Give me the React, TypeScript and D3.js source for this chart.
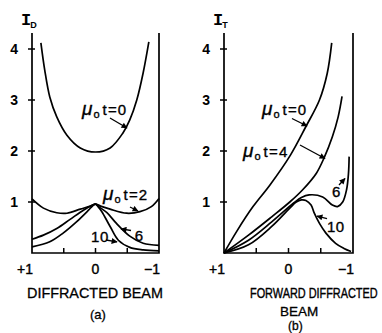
import { useEffect, useRef } from "react"
import * as d3 from "d3"

type Pt = [number, number]

// axes: intensity ticks and direction-cosine ticks (+1 on the left, -1 on the right)
const yTicks = [1, 2, 3, 4]
const xMinorTicks = [0.5, 0, -0.5]
const xLabelValues = [1, 0, -1]
const xLabelText = ["+1", "0", "−1"]

// (a) diffracted beam, I_D vs direction, one curve per mu0*t
const diffracted0: Pt[] = [[0.86, 4.12], [0.8, 3.59], [0.72, 3.06], [0.61, 2.67], [0.45, 2.31], [0.24, 2.06], [0, 1.98], [-0.23, 2.06], [-0.43, 2.35], [-0.54, 2.61], [-0.65, 3.0], [-0.75, 3.53], [-0.84, 4.14]]
const diffracted2: Pt[] = [[1, 1.06], [0.82, 0.88], [0.61, 0.79], [0.45, 0.78], [0.24, 0.86], [0.08, 0.92], [0, 0.96], [-0.08, 0.92], [-0.23, 0.86], [-0.49, 0.78], [-0.7, 0.81], [-0.88, 0.91], [-1, 1.07]]
const diffracted6: Pt[] = [[1, 0.27], [0.82, 0.35], [0.61, 0.48], [0.4, 0.66], [0.19, 0.84], [0.06, 0.93], [0, 0.96], [-0.06, 0.9], [-0.18, 0.79], [-0.33, 0.58], [-0.54, 0.33], [-0.75, 0.19], [-1, 0.15]]
const diffracted10: Pt[] = [[1, 0.12], [0.72, 0.22], [0.51, 0.39], [0.3, 0.61], [0.11, 0.84], [0.04, 0.93], [0, 0.96], [-0.04, 0.91], [-0.1, 0.81], [-0.23, 0.52], [-0.36, 0.25], [-0.54, 0.11], [-0.75, 0.06], [-1, 0.04]]

// (b) forward diffracted beam, I_T
const forward0: Pt[] = [[1, 0], [0.805, 0.42], [0.55, 0.91], [0.29, 1.33], [-0.03, 1.92], [-0.27, 2.48], [-0.48, 3.0], [-0.6, 3.52], [-0.67, 4.12]]
const forward4: Pt[] = [[1, 0], [0.62, 0.35], [0.26, 0.71], [-0.02, 1.0], [-0.22, 1.24], [-0.43, 1.56], [-0.55, 1.86], [-0.68, 2.28], [-0.77, 2.67], [-0.83, 3.07]]
const forward6: Pt[] = [[1, 0], [0.62, 0.25], [0.26, 0.61], [-0.08, 0.98], [-0.2, 1.09], [-0.32, 1.14], [-0.53, 1.1], [-0.68, 0.94], [-0.76, 0.91], [-0.84, 1.0], [-0.9, 1.24], [-0.93, 1.56], [-0.94, 1.89]]
const forward10: Pt[] = [[1, 0], [0.62, 0.16], [0.26, 0.52], [-0.02, 0.88], [-0.12, 1.0], [-0.2, 1.04], [-0.27, 1.03], [-0.35, 0.94], [-0.4, 0.78], [-0.48, 0.58], [-0.58, 0.39], [-0.73, 0.19], [-0.86, 0.09], [-0.97, 0.03]]

const FONT = "'Liberation Sans', Arial, sans-serif"

interface Note {
  text: string
  mu: boolean
  at: Pt
  from: Pt
  to: Pt
}

const panels = [
  {
    left: 32,
    right: 159,
    sub: "D",
    curves: [diffracted0, diffracted2, diffracted6, diffracted10],
    notes: [
      { text: "0", mu: true, at: [0.213, 2.706], from: [-0.228, 2.647], to: [-0.496, 2.451] },
      { text: "2", mu: true, at: [-0.118, 1.039], from: [-0.543, 0.902], to: [-0.669, 0.824] },
      { text: "6", mu: false, at: [-0.62, 0.235], from: [-0.559, 0.441], to: [-0.402, 0.471] },
      { text: "10", mu: false, at: [0.07, 0.216], from: [-0.165, 0.255], to: [-0.339, 0.216] },
    ] as Note[],
    title: [
      { text: "DIFFRACTED BEAM", x: 27, y: 298, size: 14.4, sy: 1 },
      { text: "(a)", x: 90, y: 319, size: 13, sy: 1 },
    ],
  },
  {
    left: 224,
    right: 353,
    sub: "T",
    curves: [forward0, forward4, forward6, forward10],
    notes: [
      { text: "0", mu: true, at: [0.411, 2.706], from: [-0.054, 2.637], to: [-0.287, 2.49] },
      { text: "4", mu: true, at: [0.705, 1.882], from: [-0.178, 2.118], to: [-0.566, 1.853] },
      { text: "6", mu: false, at: [-0.674, 1.098], from: [-0.783, 1.333], to: [-0.876, 1.461] },
      { text: "10", mu: false, at: [-0.597, 0.412], from: [-0.597, 0.676], to: [-0.442, 0.725] },
    ] as Note[],
    title: [
      { text: "FORWARD DIFFRACTED", x: 250, y: 298, size: 10.9, sy: 1.28 },
      { text: "BEAM", x: 280, y: 316, size: 13.5, sy: 1 },
      { text: "(b)", x: 288, y: 330, size: 12, sy: 1 },
    ],
  },
]

export default function App() {
  const svgRef = useRef<SVGSVGElement | null>(null)

  useEffect(() => {
    if (!svgRef.current) return
    const svg = d3.select(svgRef.current)
    svg.selectAll("*").remove()

    svg.append("rect").attr("width", 382).attr("height", 333).attr("fill", "#fff")

    // arrow head for the curve labels
    svg
      .append("defs")
      .append("marker")
      .attr("id", "arrowHead")
      .attr("viewBox", "0 0 10 10")
      .attr("refX", 9)
      .attr("refY", 5)
      .attr("markerWidth", 7)
      .attr("markerHeight", 6)
      .attr("markerUnits", "userSpaceOnUse")
      .attr("orient", "auto")
      .append("path")
      .attr("d", "M0,0L10,5L0,10z")
      .attr("fill", "#000")

    const y = d3.scaleLinear().domain([0, 4]).range([253, 49])
    const axisTop = 33

    panels.forEach((p) => {
      const x = d3.scaleLinear().domain([1, -1]).range([p.left, p.right])
      const g = svg.append("g")

      // frame: left axis, bottom axis, right edge
      g.append("path")
        .attr("d", `M${p.left},${axisTop}V${y(0)}H${p.right}V${axisTop}`)
        .attr("fill", "none")
        .attr("stroke", "#000")
        .attr("stroke-width", 1.7)

      // y ticks cross the axis
      g.selectAll(".ytick")
        .data(yTicks)
        .enter()
        .append("line")
        .attr("x1", p.left - 4)
        .attr("x2", p.left + 3)
        .attr("y1", (d) => y(d))
        .attr("y2", (d) => y(d))
        .attr("stroke", "#000")
        .attr("stroke-width", 1.5)

      g.selectAll(".ylab")
        .data(yTicks)
        .enter()
        .append("text")
        .attr("x", p.left - 14)
        .attr("y", (d) => y(d) + 5)
        .attr("text-anchor", "end")
        .attr("font-family", FONT)
        .attr("font-weight", "bold")
        .attr("font-size", 14)
        .text((d) => d)

      // x ticks point up from the bottom axis
      g.selectAll(".xtick")
        .data(xMinorTicks)
        .enter()
        .append("line")
        .attr("x1", (d) => x(d))
        .attr("x2", (d) => x(d))
        .attr("y1", y(0))
        .attr("y2", y(0) - 5)
        .attr("stroke", "#000")
        .attr("stroke-width", 1.5)

      g.selectAll(".xlab")
        .data(xLabelValues)
        .enter()
        .append("text")
        .attr("x", (d) => x(d) + (d === 0 ? 0 : 1))
        .attr("y", 274)
        .attr("text-anchor", (d) => (d === 0 ? "middle" : "end"))
        .attr("font-family", FONT)
        .attr("font-size", 14)
        .attr("stroke", "#000")
        .attr("stroke-width", 0.4)
        .text((d, i) => xLabelText[i])

      // axis name I_D / I_T
      const name = g.append("text").attr("x", p.left - 11).attr("y", 25).attr("font-weight", "bold")
      name.append("tspan").attr("font-family", "'Liberation Mono', monospace").attr("font-size", 17).text("I")
      name.append("tspan").attr("font-family", FONT).attr("font-size", 9).attr("dx", -1).attr("dy", 3).text(p.sub)

      // curves
      const line = d3
        .line<Pt>()
        .x((d) => x(d[0]))
        .y((d) => y(d[1]))
        .curve(d3.curveCatmullRom.alpha(0.5))

      g.selectAll(".curve")
        .data(p.curves)
        .enter()
        .append("path")
        .attr("d", (d) => line(d))
        .attr("fill", "none")
        .attr("stroke", "#000")
        .attr("stroke-width", 1.7)

      // curve labels with arrows
      p.notes.forEach((n) => {
        g.append("line")
          .attr("x1", x(n.from[0]))
          .attr("y1", y(n.from[1]))
          .attr("x2", x(n.to[0]))
          .attr("y2", y(n.to[1]))
          .attr("stroke", "#000")
          .attr("stroke-width", 1.3)
          .attr("marker-end", "url(#arrowHead)")

        const t = g
          .append("text")
          .attr("x", x(n.at[0]))
          .attr("y", y(n.at[1]))
          .attr("font-family", FONT)
          .attr("stroke", "#000")
          .attr("stroke-width", 0.35)
        if (n.mu) {
          t.append("tspan").attr("font-size", 19).attr("font-style", "italic").text("μ")
          t.append("tspan").attr("font-size", 11).attr("dx", 1).attr("dy", 3).text("o")
          t.append("tspan").attr("font-size", 15).attr("dx", 3).attr("dy", -3).attr("letter-spacing", 1.2).text(`t=${n.text}`)
        } else {
          t.attr("font-size", 15).attr("letter-spacing", 0.5).text(n.text)
        }
      })

      // captions under the panel (stretched vertically to match the lettering)
      g.selectAll(".title")
        .data(p.title)
        .enter()
        .append("text")
        .attr("transform", (d) => `translate(${d.x},${d.y}) scale(1,${d.sy})`)
        .attr("font-family", FONT)
        .attr("font-size", (d) => d.size)
        .attr("stroke", "#000")
        .attr("stroke-width", 0.3)
        .text((d) => d.text)
    })
  }, [])

  return <svg ref={svgRef} width={382} height={333} style={{ position: "absolute", left: 0, top: 0 }}></svg>
}
